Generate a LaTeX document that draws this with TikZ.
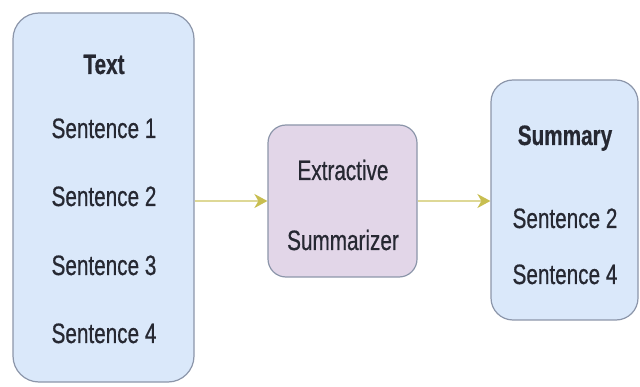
\documentclass[tikz,border=0pt]{standalone}
\usepackage{fontspec}
\usetikzlibrary{arrows.meta}
\newfontfamily\nf[FakeStretch=0.74,FakeBold=0.6]{Liberation Sans}
\definecolor{bluefill}{RGB}{218,232,250}
\definecolor{purplefill}{RGB}{226,214,232}
\definecolor{boxline}{RGB}{140,150,170}
\definecolor{arrcol}{RGB}{222,216,150}
\definecolor{headcol}{RGB}{200,190,80}
\definecolor{txt}{RGB}{38,40,50}
\tikzset{
  bluebox/.style={draw=boxline, line width=1.2pt, fill=bluefill, rounded corners=26pt},
  purplebox/.style={draw=boxline, line width=1.2pt, fill=purplefill, rounded corners=18pt},
  lbl/.style={anchor=base, inner sep=0pt, text=txt, font=\nf\fontsize{28}{30}\selectfont},
  blbl/.style={lbl, font=\nf\bfseries\fontsize{28}{30}\selectfont},
  arr/.style={draw=arrcol, line width=1.8pt, -{Stealth[length=13pt, width=14pt, inset=4pt, fill=headcol, color=headcol]}}
}
\begin{document}
\begin{tikzpicture}[x=1pt, y=-1pt]
\useasboundingbox (0,0) rectangle (640,387);
\fill[white] (0,0) rectangle (640,387);
\node[bluebox, minimum width=181pt, minimum height=369pt] (tbox) at (103.5,197.5) {};
\node[purplebox, minimum width=149pt, minimum height=152pt] (mid) at (342.5,201) {};
\node[bluebox, rounded corners=22pt, minimum width=147pt, minimum height=240pt] (sbox) at (564.5,200) {};
\node[blbl] (t0) at (104,74) {Text};
\node[lbl] (t1) at (104,138) {Sentence 1};
\node[lbl] (t2) at (104,206) {Sentence 2};
\node[lbl] (t3) at (104,275) {Sentence 3};
\node[lbl] (t4) at (104,343) {Sentence 4};
\node[lbl] (m1) at (343,180) {Extractive};
\node[lbl] (m2) at (343,250) {Summarizer};
\node[blbl] (s0) at (565,145) {Summary};
\node[lbl] (s1) at (565,228) {Sentence 2};
\node[lbl] (s2) at (565,284) {Sentence 4};
\draw[arr] (mid.west -| tbox.east) -- (mid.west);
\draw[arr] (mid.east) -- (mid.east -| sbox.west);
\end{tikzpicture}
\end{document}
